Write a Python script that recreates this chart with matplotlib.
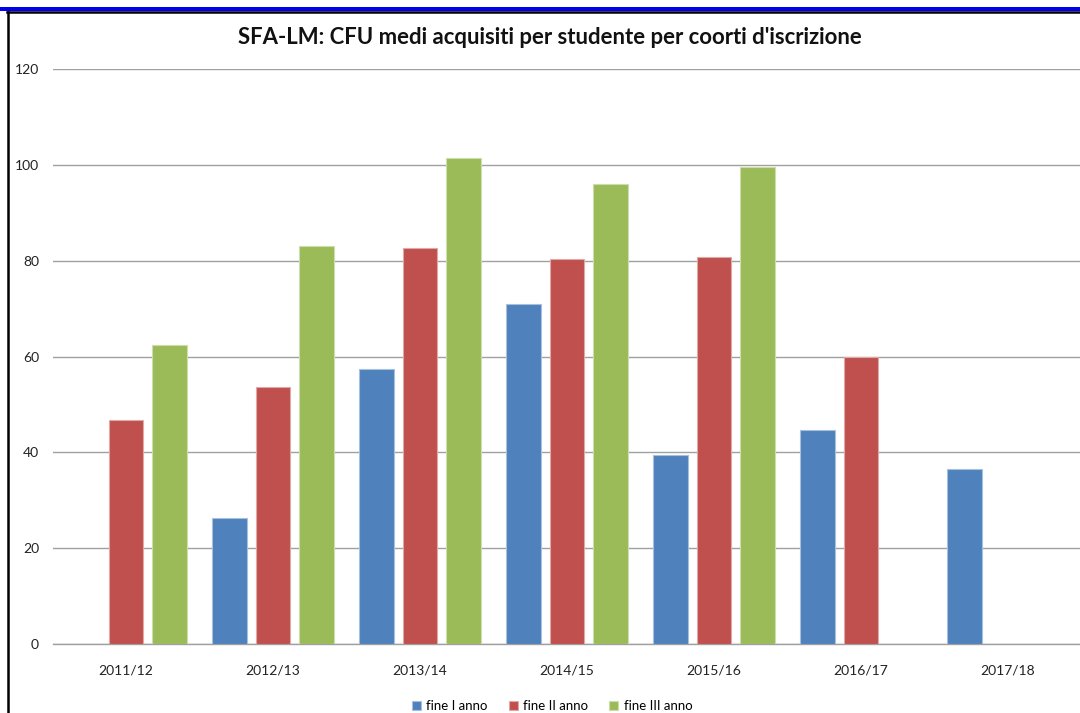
import matplotlib
matplotlib.use("Agg")
import matplotlib.pyplot as plt
import numpy as np
from matplotlib.lines import Line2D
from matplotlib.patches import Rectangle

categories = ["2011/12", "2012/13", "2013/14", "2014/15", "2015/16", "2016/17", "2017/18"]
fine_I = [np.nan, 26.3, 57.4, 70.9, 39.5, 44.7, 36.5]
fine_II = [46.7, 53.6, 82.6, 80.4, 80.7, 59.9, np.nan]
fine_III = [62.4, 83.1, 101.5, 96.1, 99.6, np.nan, np.nan]
series_labels = ["fine I anno", "fine II anno", "fine III anno"]
title = "SFA-LM: CFU medi acquisiti per studente per coorti d'iscrizione"
yticks = [0, 20, 40, 60, 80, 100, 120]

colors = ["#4F81BD", "#C0504D", "#9BBB59"]
edges = ["#A7C0DE", "#E0A8A6", "#CDDDAC"]

plt.rcParams['font.family'] = ['Lato', 'DejaVu Sans']

W, H = 1080, 713
fig = plt.figure(figsize=(W / 100, H / 100), dpi=100)
ax = fig.add_axes([52.5 / W, (H - 644) / H, (W - 52.5) / W, (644 - 69) / H])

x = np.arange(len(categories))
off = 0.296
bw = 0.238
for i, (vals, c, ec, lab) in enumerate(zip([fine_I, fine_II, fine_III], colors, edges, series_labels)):
    ax.bar(x + (i - 1) * off, vals, width=bw, color=c, edgecolor=ec, linewidth=0.8, label=lab, zorder=3)

ax.set_xlim(-0.5, 6.5 - 1.5 / 147)
ax.set_ylim(0, 120)
ax.set_yticks(yticks)
ax.set_yticklabels([str(v) for v in yticks], fontsize=10, color="#222222")
ax.set_xticks(x)
ax.set_xticklabels(categories, fontsize=10, color="#222222")
ax.tick_params(axis='both', length=0)
ax.tick_params(axis='y', pad=9.7)
ax.tick_params(axis='x', pad=15)
ax.grid(axis='y', color="#A0A0A0", linewidth=1.0, zorder=0)
for s in ["top", "right", "left"]:
    ax.spines[s].set_visible(False)
ax.spines["bottom"].set_color("#A0A0A0")
ax.spines["bottom"].set_linewidth(1.0)

fig.text(550 / W, 1 - 37 / H, title, ha="center", va="center", fontsize=15.9, fontweight="bold", color="#111111")

leg = fig.legend(loc="center", bbox_to_anchor=(552 / W, 1 - 706 / H), ncol=3, frameon=False,
                 fontsize=9.5, handlelength=0.7, handleheight=0.7, handletextpad=0.4, columnspacing=1.6)

# frame decorations
fig.add_artist(Rectangle((0, 1 - 11 / H), 1, 4 / H, transform=fig.transFigure, color="#0000EE", lw=0))
fig.add_artist(Line2D([7 / W, 1], [1 - 12 / H, 1 - 12 / H], transform=fig.transFigure, color="black", lw=1.8))
fig.add_artist(Line2D([8 / W, 8 / W], [0, 1 - 12 / H], transform=fig.transFigure, color="black", lw=1.8))

fig.savefig("out.png", dpi=100)
